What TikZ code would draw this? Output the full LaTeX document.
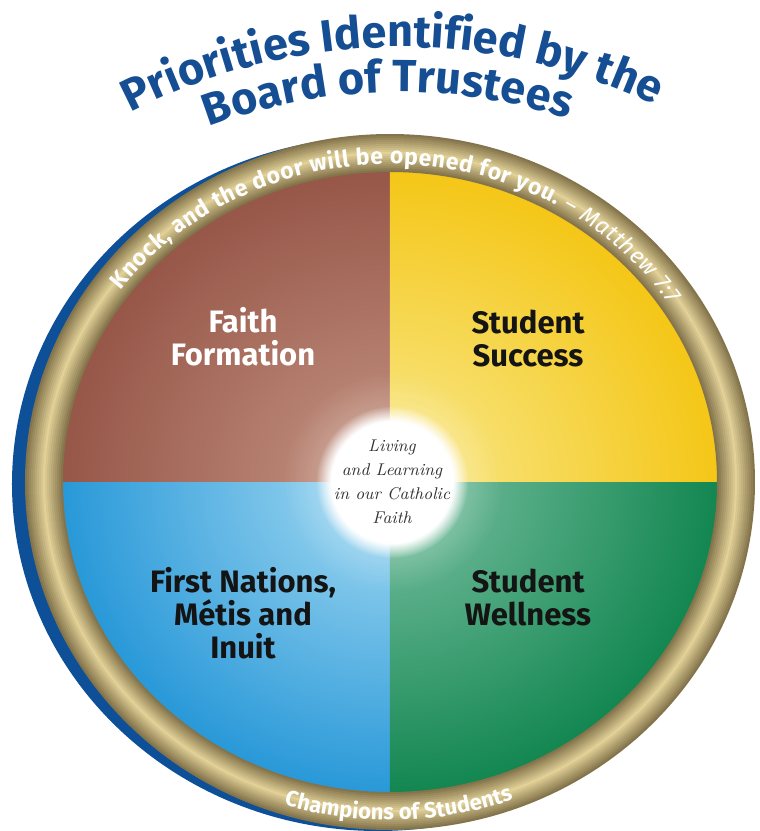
\documentclass[tikz,border=0pt]{standalone}
\usepackage{fontspec}
\newfontfamily\firafont{Fira Sans}
\usetikzlibrary{decorations.text,fadings}
\definecolor{trusteeBlue}{RGB}{22,78,148}
\definecolor{rimBlue}{RGB}{14,80,152}
\definecolor{goldEdge}{RGB}{132,116,76}
\definecolor{goldLight}{RGB}{226,210,152}
\definecolor{faithOut}{RGB}{150,86,72}
\definecolor{faithIn}{RGB}{198,150,132}
\definecolor{successOut}{RGB}{244,198,22}
\definecolor{successIn}{RGB}{249,234,145}
\definecolor{nationsOut}{RGB}{40,152,216}
\definecolor{nationsIn}{RGB}{168,220,243}
\definecolor{wellOut}{RGB}{18,134,80}
\definecolor{wellIn}{RGB}{125,194,165}

\tikzset{
  quadlabel/.style={align=center, text=black!92, font=\firafont\bfseries\fontsize{15.5}{16.5}\selectfont},
  ringtext/.style={decorate, decoration={text along path, text color=white, text={#1}}},
  titletext/.style={decorate, decoration={text along path, text align=center, text color=trusteeBlue,
    text={|\firafont\bfseries\fontsize{22.5}{27}\selectfont|#1}}}
}
\tikzfading[name=soft glow, inner color=transparent!0, outer color=transparent!100]

\begin{document}
\begin{tikzpicture}[x=0.5pt,y=0.5pt]
\useasboundingbox (-390,-349) rectangle (370,482);
\fill[white] (-390,-349) rectangle (370,482);

% blue rim showing on the left
\fill[rimBlue] (-12,-2) ellipse [x radius=366, y radius=347];

% the four quadrants, lighter towards the middle
\begin{scope}
\clip (0,0) ellipse [x radius=330, y radius=313];
\foreach \sx/\sy/\cin/\cout in {-1/1/faithIn/faithOut, 1/1/successIn/successOut,
    -1/-1/nationsIn/nationsOut, 1/-1/wellIn/wellOut}{
  \begin{scope}
  \clip (0,0) rectangle (\sx*400,\sy*400);
  \shade[inner color=\cin, outer color=\cout] (0,0) ellipse [x radius=330, y radius=313];
  \end{scope}
}
\end{scope}

% white glow
\fill[white, opacity=0.5, path fading=soft glow] (2,0) circle (110);
\fill[white, path fading=circle with fuzzy edge 20 percent] (2,0) circle (76);

% gold ring, shaded like a tube
\foreach \w [evaluate=\w as \m using {int(100-100*(\w-1)/18)}] in {19,17,...,1}
  \draw[goldLight!\m!goldEdge, line width=\w pt] (0,0) ellipse [x radius=346, y radius=329];

% words on the ring
\path[ringtext={|\firafont\bfseries\fontsize{11.5}{13}\selectfont|Knock, and the door will be opened for you. |\firafont\mdseries\itshape\fontsize{11.5}{13}\selectfont|– Matthew 7:7},
  decoration={text align=fit to path}]
  (143:337 and 318) arc[start angle=143, end angle=34, x radius=337, y radius=318];
\path[ringtext={|\firafont\bfseries\fontsize{11}{13}\selectfont|Champions of Students},
  decoration={text align=center}]
  (225:357 and 338) arc[start angle=225, end angle=318, x radius=357, y radius=338];

% heading
\path[titletext={Priorities Identified by the}]
  ([shift={(10,-150)}]140:585) arc[start angle=140, end angle=41.6, radius=585];
\path[titletext={Board of Trustees}]
  ([shift={(10,-150)}]140:540) arc[start angle=140, end angle=42.6, radius=540];

% labels
\node[quadlabel, text=white] (faith) at (-147,145) {Faith\\Formation};
\node[quadlabel] (success) at (138,144) {Student\\Success};
\node[quadlabel] (nations) at (-147,-131) {First Nations,\\Métis and\\Inuit};
\node[quadlabel] (wellness) at (138,-115) {Student\\Wellness};
\node[align=center, text=black!80, font=\itshape\fontsize{8.5}{12}\selectfont] (motto) at (2,0)
  {Living\\and Learning\\in our Catholic\\Faith};
\end{tikzpicture}
\end{document}
